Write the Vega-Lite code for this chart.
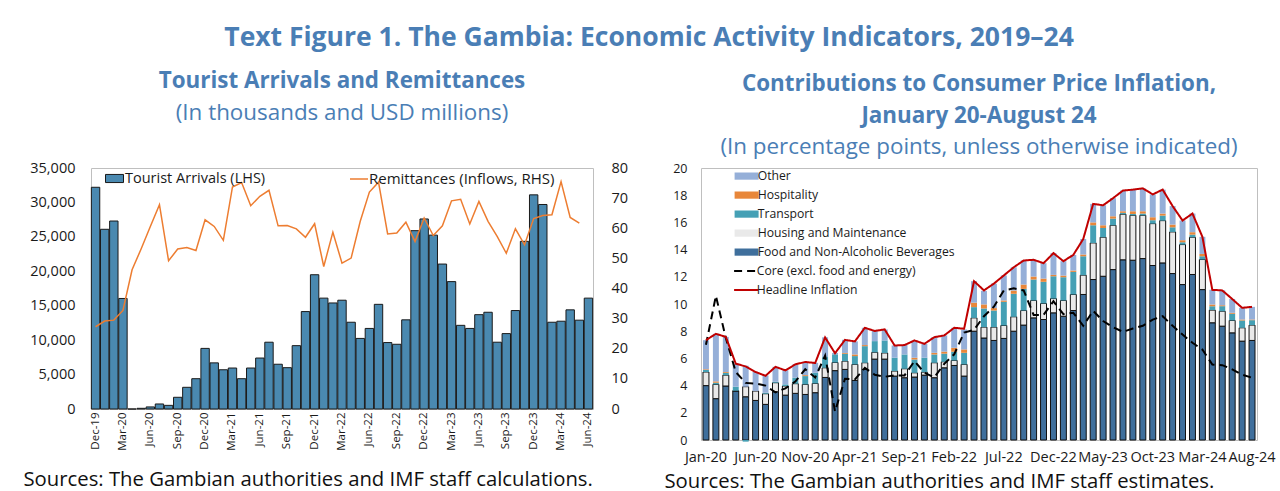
{
  "$schema": "https://vega.github.io/schema/vega-lite/v6.json",
  "background": "white",
  "padding": {"left": 22, "top": 25, "right": 0, "bottom": 0},
  "title": {"text": "Text Figure 1. The Gambia: Economic Activity Indicators, 2019–24", "font": "Open Sans", "fontSize": 26.5, "fontWeight": "bold", "color": "#4A7EB5", "anchor": "middle", "offset": 18},
  "config": {
    "view": {"stroke": "#BFBFBF", "strokeWidth": 1},
    "axis": {"labelFont": "Open Sans", "labelFontSize": 13.5, "labelColor": "#1a1a1a", "ticks": false, "domain": false, "grid": false, "labelOverlap": false, "titleFont": "Open Sans", "titleFontWeight": "normal", "titleColor": "#111111"},
    "legend": {"labelFont": "Open Sans", "labelFontSize": 13, "labelColor": "#1a1a1a", "labelLimit": 400, "padding": 0},
    "title": {"font": "Open Sans", "color": "#4A7EB5", "subtitleFont": "Open Sans", "subtitleColor": "#4A7EB5"}
  },
  "resolve": {
    "scale": {"fill": "independent", "stroke": "independent", "strokeDash": "independent"},
    "legend": {"fill": "independent", "stroke": "independent", "strokeDash": "independent"}
  },
  "spacing": 34,
  "hconcat": [
    {
      "width": 502,
      "height": 241,
      "title": {"text": "Tourist Arrivals and Remittances", "subtitle": "(In thousands and USD millions)", "fontSize": 22.4, "fontWeight": "bold", "subtitleFontSize": 22.4, "subtitleFontWeight": "normal", "subtitlePadding": 9, "offset": 36, "anchor": "middle"},
      "data": {"values": [
        {"m":"Dec-19","tourists":32200,"remit":27.3},
        {"m":"Jan-20","tourists":26100,"remit":29.2},
        {"m":"Feb-20","tourists":27300,"remit":29.5},
        {"m":"Mar-20","tourists":16050,"remit":32.7},
        {"m":"Apr-20","tourists":0,"remit":46.2},
        {"m":"May-20","tourists":100,"remit":53.2},
        {"m":"Jun-20","tourists":300,"remit":60.6},
        {"m":"Jul-20","tourists":730,"remit":67.8},
        {"m":"Aug-20","tourists":530,"remit":49.2},
        {"m":"Sep-20","tourists":1700,"remit":53.1},
        {"m":"Oct-20","tourists":3150,"remit":53.6},
        {"m":"Nov-20","tourists":4400,"remit":52.6},
        {"m":"Dec-20","tourists":8800,"remit":62.8},
        {"m":"Jan-21","tourists":6700,"remit":60.6},
        {"m":"Feb-21","tourists":5700,"remit":56.0},
        {"m":"Mar-21","tourists":5950,"remit":73.7},
        {"m":"Apr-21","tourists":4400,"remit":75.2},
        {"m":"May-21","tourists":5950,"remit":67.5},
        {"m":"Jun-21","tourists":7400,"remit":70.6},
        {"m":"Jul-21","tourists":9700,"remit":72.6},
        {"m":"Aug-21","tourists":6500,"remit":60.8},
        {"m":"Sep-21","tourists":6000,"remit":60.9},
        {"m":"Oct-21","tourists":9200,"remit":59.8},
        {"m":"Nov-21","tourists":14150,"remit":57.0},
        {"m":"Dec-21","tourists":19500,"remit":61.5},
        {"m":"Jan-22","tourists":16100,"remit":47.3},
        {"m":"Feb-22","tourists":15400,"remit":58.7},
        {"m":"Mar-22","tourists":15800,"remit":48.4},
        {"m":"Apr-22","tourists":12600,"remit":50.1},
        {"m":"May-22","tourists":10250,"remit":62.3},
        {"m":"Jun-22","tourists":11700,"remit":72.0},
        {"m":"Jul-22","tourists":15200,"remit":75.3},
        {"m":"Aug-22","tourists":9650,"remit":58.1},
        {"m":"Sep-22","tourists":9400,"remit":58.4},
        {"m":"Oct-22","tourists":12950,"remit":62.0},
        {"m":"Nov-22","tourists":25900,"remit":55.6},
        {"m":"Dec-22","tourists":27600,"remit":63.4},
        {"m":"Jan-23","tourists":25250,"remit":57.6},
        {"m":"Feb-23","tourists":21050,"remit":60.8},
        {"m":"Mar-23","tourists":18500,"remit":69.1},
        {"m":"Apr-23","tourists":12150,"remit":69.6},
        {"m":"May-23","tourists":11700,"remit":61.4},
        {"m":"Jun-23","tourists":13700,"remit":68.9},
        {"m":"Jul-23","tourists":14050,"remit":62.3},
        {"m":"Aug-23","tourists":9700,"remit":57.3},
        {"m":"Sep-23","tourists":10950,"remit":51.7},
        {"m":"Oct-23","tourists":14300,"remit":59.8},
        {"m":"Nov-23","tourists":24350,"remit":54.5},
        {"m":"Dec-23","tourists":31100,"remit":63.2},
        {"m":"Jan-24","tourists":29700,"remit":64.2},
        {"m":"Feb-24","tourists":12600,"remit":64.5},
        {"m":"Mar-24","tourists":12750,"remit":75.5},
        {"m":"Apr-24","tourists":14400,"remit":63.6},
        {"m":"May-24","tourists":12900,"remit":61.7},
        {"m":"Jun-24","tourists":16100,"remit":null}
      ]},
      "encoding": {
        "x": {"field": "m", "type": "ordinal", "sort": null,
          "scale": {"paddingInner": 0.08, "paddingOuter": 0.04},
          "axis": {"values": ["Dec-19","Mar-20","Jun-20","Sep-20","Dec-20","Mar-21","Jun-21","Sep-21","Dec-21","Mar-22","Jun-22","Sep-22","Dec-22","Mar-23","Jun-23","Sep-23","Dec-23","Mar-24","Jun-24"],
            "labelAngle": -90, "labelAlign": "right", "labelBaseline": "middle", "labelPadding": 3, "labelFontSize": 11.5,
            "title": "Sources: The Gambian authorities and IMF staff calculations.",
            "titleFontSize": 20.3, "titleX": -68, "titleY": 76, "titleAlign": "left", "titleBaseline": "alphabetic"}}
      },
      "layer": [
        {
          "mark": {"type": "bar", "stroke": "#1a1a1a", "strokeWidth": 1},
          "encoding": {
            "y": {"field": "tourists", "type": "quantitative", "scale": {"domain": [0, 35000], "nice": false},
              "axis": {"values": [0,5000,10000,15000,20000,25000,30000,35000], "format": ",.0f", "title": null, "labelPadding": 16, "labelFontSize": 14.5, "labelOverlap": false}},
            "fill": {"datum": "Tourist Arrivals (LHS)", "type": "nominal", "scale": {"range": ["#4A89B0"]},
              "legend": {"title": null, "orient": "none", "legendX": 14, "legendY": 1, "symbolType": "M-1,-0.45H1V0.45H-1Z", "symbolSize": 324, "symbolStrokeColor": "#1a1a1a", "symbolStrokeWidth": 1, "labelFontSize": 14.5, "labelOffset": 1}}
          }
        },
        {
          "mark": {"type": "line", "strokeWidth": 1.5, "color": "#ED7D31"},
          "encoding": {
            "y": {"field": "remit", "type": "quantitative", "scale": {"domain": [0, 80], "nice": false},
              "axis": {"orient": "right", "values": [0,10,20,30,40,50,60,70,80], "title": null, "labelPadding": 18, "labelFontSize": 14.5, "labelOverlap": false}},
            "stroke": {"datum": "Remittances (Inflows, RHS)", "type": "nominal", "scale": {"range": ["#ED7D31"]},
              "legend": {"title": null, "orient": "none", "legendX": 258, "legendY": 1, "symbolType": "stroke", "symbolSize": 324, "symbolStrokeWidth": 1.5, "labelFontSize": 15, "labelOffset": 0}}
          }
        }
      ],
      "resolve": {"scale": {"y": "independent"}}
    },
    {
      "width": 556,
      "height": 272,
      "title": {"text": ["Contributions to Consumer Price Inflation,", "January 20-August 24"], "subtitle": "(In percentage points, unless otherwise indicated)", "fontSize": 22.4, "lineHeight": 32, "fontWeight": "bold", "subtitleFontSize": 22.4, "subtitleFontWeight": "normal", "subtitlePadding": 8, "offset": 4, "anchor": "middle"},
      "data": {"values": [
        {"m":"Jan-20","food":4.0,"housing":1.0,"transport":0.15,"hospitality":0.05,"other":2.14,"core":7.0,"headline":7.34},
        {"m":"Feb-20","food":3.04,"housing":1.05,"transport":0.12,"hospitality":0.1,"other":3.5,"core":10.6,"headline":7.81},
        {"m":"Mar-20","food":3.97,"housing":0.8,"transport":0.17,"hospitality":0.06,"other":2.58,"core":7.5,"headline":7.58},
        {"m":"Apr-20","food":3.6,"housing":0.02,"transport":0.3,"hospitality":0.0,"other":1.69,"core":5.0,"headline":5.61},
        {"m":"May-20","food":3.18,"housing":0.74,"transport":-0.12,"hospitality":0.0,"other":1.54,"core":4.2,"headline":5.41},
        {"m":"Jun-20","food":2.91,"housing":0.69,"transport":0.0,"hospitality":0.0,"other":1.4,"core":4.15,"headline":5.0},
        {"m":"Jul-20","food":2.62,"housing":0.78,"transport":0.07,"hospitality":0.0,"other":1.28,"core":4.0,"headline":4.72},
        {"m":"Aug-20","food":3.55,"housing":0.66,"transport":0.07,"hospitality":0.0,"other":1.1,"core":3.5,"headline":5.38},
        {"m":"Sep-20","food":3.3,"housing":0.67,"transport":0.12,"hospitality":0.0,"other":1.04,"core":3.8,"headline":5.12},
        {"m":"Oct-20","food":3.43,"housing":0.71,"transport":0.44,"hospitality":0.0,"other":0.98,"core":4.3,"headline":5.56},
        {"m":"Nov-20","food":3.35,"housing":0.74,"transport":0.61,"hospitality":0.07,"other":0.96,"core":5.2,"headline":5.74},
        {"m":"Dec-20","food":3.48,"housing":0.68,"transport":0.78,"hospitality":0.0,"other":0.73,"core":4.6,"headline":5.66},
        {"m":"Jan-21","food":4.6,"housing":0.71,"transport":0.79,"hospitality":0.0,"other":1.45,"core":6.2,"headline":7.54},
        {"m":"Feb-21","food":5.1,"housing":0.6,"transport":0.6,"hospitality":0.0,"other":0.1,"core":2.1,"headline":6.38},
        {"m":"Mar-21","food":5.19,"housing":0.61,"transport":0.54,"hospitality":0.06,"other":0.97,"core":4.5,"headline":7.36},
        {"m":"Apr-21","food":4.38,"housing":1.18,"transport":0.61,"hospitality":0.12,"other":0.96,"core":4.45,"headline":7.25},
        {"m":"May-21","food":5.19,"housing":0.49,"transport":1.22,"hospitality":0.08,"other":1.27,"core":5.3,"headline":8.25},
        {"m":"Jun-21","food":5.95,"housing":0.5,"transport":0.82,"hospitality":0.0,"other":0.75,"core":4.8,"headline":8.02},
        {"m":"Jul-21","food":5.95,"housing":0.45,"transport":0.92,"hospitality":0.0,"other":0.81,"core":4.65,"headline":8.13},
        {"m":"Aug-21","food":4.7,"housing":0.37,"transport":0.98,"hospitality":0.0,"other":0.9,"core":4.75,"headline":6.95},
        {"m":"Sep-21","food":4.58,"housing":0.66,"transport":1.05,"hospitality":0.0,"other":0.69,"core":4.75,"headline":6.98},
        {"m":"Oct-21","food":4.63,"housing":0.31,"transport":0.98,"hospitality":0.13,"other":1.27,"core":5.8,"headline":7.32},
        {"m":"Nov-21","food":4.77,"housing":0.22,"transport":1.06,"hospitality":0.0,"other":1.02,"core":4.95,"headline":7.07},
        {"m":"Dec-21","food":4.58,"housing":1.1,"transport":0.61,"hospitality":0.12,"other":1.15,"core":4.6,"headline":7.56},
        {"m":"Jan-22","food":5.31,"housing":0.44,"transport":0.6,"hospitality":0.15,"other":1.19,"core":5.6,"headline":7.69},
        {"m":"Feb-22","food":5.48,"housing":0.37,"transport":0.64,"hospitality":0.29,"other":1.47,"core":6.3,"headline":8.25},
        {"m":"Mar-22","food":4.7,"housing":0.86,"transport":0.85,"hospitality":0.25,"other":1.47,"core":7.9,"headline":8.18},
        {"m":"Apr-22","food":8.0,"housing":0.98,"transport":0.79,"hospitality":0.33,"other":1.58,"core":8.1,"headline":11.68},
        {"m":"May-22","food":7.5,"housing":0.8,"transport":1.37,"hospitality":0.3,"other":1.0,"core":9.1,"headline":11.0},
        {"m":"Jun-22","food":7.32,"housing":0.98,"transport":1.22,"hospitality":0.18,"other":1.8,"core":9.8,"headline":11.5},
        {"m":"Jul-22","food":7.47,"housing":0.95,"transport":1.74,"hospitality":0.1,"other":1.84,"core":11.0,"headline":12.1},
        {"m":"Aug-22","food":8.0,"housing":1.06,"transport":1.69,"hospitality":0.24,"other":1.71,"core":11.15,"headline":12.7},
        {"m":"Sep-22","food":8.45,"housing":1.07,"transport":1.59,"hospitality":0.32,"other":1.77,"core":11.0,"headline":13.2},
        {"m":"Oct-22","food":8.98,"housing":1.28,"transport":1.54,"hospitality":0.22,"other":1.23,"core":9.2,"headline":13.25},
        {"m":"Nov-22","food":8.86,"housing":1.18,"transport":1.59,"hospitality":0.24,"other":1.13,"core":9.2,"headline":13.0},
        {"m":"Dec-22","food":9.35,"housing":1.05,"transport":1.64,"hospitality":0.1,"other":1.6,"core":10.2,"headline":13.74},
        {"m":"Jan-23","food":9.1,"housing":1.16,"transport":1.71,"hospitality":0.12,"other":1.06,"core":9.25,"headline":13.15},
        {"m":"Feb-23","food":9.52,"housing":1.18,"transport":1.66,"hospitality":0.1,"other":1.15,"core":9.35,"headline":13.61},
        {"m":"Mar-23","food":10.7,"housing":1.42,"transport":1.39,"hospitality":0.13,"other":1.14,"core":8.4,"headline":14.78},
        {"m":"Apr-23","food":11.8,"housing":2.69,"transport":1.3,"hospitality":0.21,"other":1.36,"core":9.5,"headline":17.36},
        {"m":"May-23","food":12.04,"housing":2.87,"transport":0.68,"hospitality":0.2,"other":1.47,"core":8.75,"headline":17.26},
        {"m":"Jun-23","food":12.53,"housing":3.26,"transport":0.49,"hospitality":0.17,"other":1.33,"core":8.3,"headline":17.78},
        {"m":"Jul-23","food":13.25,"housing":3.35,"transport":0.1,"hospitality":0.12,"other":1.52,"core":7.95,"headline":18.34},
        {"m":"Aug-23","food":13.22,"housing":3.3,"transport":0.1,"hospitality":0.2,"other":1.59,"core":8.2,"headline":18.41},
        {"m":"Sep-23","food":13.34,"housing":3.18,"transport":0.13,"hospitality":0.17,"other":1.68,"core":8.4,"headline":18.5},
        {"m":"Oct-23","food":12.83,"housing":3.08,"transport":0.25,"hospitality":0.22,"other":1.68,"core":8.85,"headline":18.06},
        {"m":"Nov-23","food":13.02,"housing":3.11,"transport":0.37,"hospitality":0.15,"other":1.76,"core":9.1,"headline":18.41},
        {"m":"Dec-23","food":12.24,"housing":3.06,"transport":0.34,"hospitality":0.2,"other":1.36,"core":8.4,"headline":17.2},
        {"m":"Jan-24","food":11.43,"housing":2.94,"transport":0.17,"hospitality":0.15,"other":1.45,"core":7.75,"headline":16.14},
        {"m":"Feb-24","food":12.17,"housing":2.74,"transport":0.19,"hospitality":0.18,"other":1.37,"core":7.15,"headline":16.65},
        {"m":"Mar-24","food":11.06,"housing":2.21,"transport":0.24,"hospitality":0.17,"other":1.26,"core":6.65,"headline":14.94},
        {"m":"Apr-24","food":8.62,"housing":0.93,"transport":0.29,"hospitality":0.12,"other":1.08,"core":5.55,"headline":11.04},
        {"m":"May-24","food":8.37,"housing":1.1,"transport":0.37,"hospitality":0.07,"other":1.09,"core":5.5,"headline":11.0},
        {"m":"Jun-24","food":7.88,"housing":0.91,"transport":0.49,"hospitality":0.07,"other":1.02,"core":5.2,"headline":10.37},
        {"m":"Jul-24","food":7.27,"housing":0.98,"transport":0.54,"hospitality":0.07,"other":0.86,"core":4.8,"headline":9.72},
        {"m":"Aug-24","food":7.32,"housing":1.13,"transport":0.36,"hospitality":0.05,"other":0.93,"core":4.58,"headline":9.79}
      ]},
      "encoding": {
        "x": {"field": "m", "type": "ordinal", "sort": null,
          "scale": {"paddingInner": 0.4, "paddingOuter": 0.2},
          "axis": {"values": ["Jan-20","Jun-20","Nov-20","Apr-21","Sep-21","Feb-22","Jul-22","Dec-22","May-23","Oct-23","Mar-24","Aug-24"],
            "labelAngle": 0, "labelPadding": 10, "labelFontSize": 14.5, "labelOverlap": false,
            "title": "Sources: The Gambian authorities and IMF staff estimates.",
            "titleFontSize": 20.3, "titleX": -37, "titleY": 47, "titleAlign": "left", "titleBaseline": "alphabetic"}},
        "y": {"type": "quantitative", "scale": {"domain": [0, 20], "nice": false},
          "axis": {"values": [0,2,4,6,8,10,12,14,16,18,20], "title": null, "labelPadding": 14, "labelFontSize": 12.5, "labelOverlap": false}}
      },
      "layer": [
        {
          "transform": [
            {"fold": ["food", "housing", "transport", "hospitality", "other"], "as": ["component", "value"]},
            {"calculate": "indexof(['food','housing','transport','hospitality','other'], datum.component)", "as": "ord"}
          ],
          "mark": {"type": "bar", "strokeWidth": 1},
          "encoding": {
            "y": {"field": "value", "type": "quantitative", "stack": "zero", "scale": {"domain": [0, 20], "nice": false},
              "axis": {"values": [0,2,4,6,8,10,12,14,16,18,20], "title": null, "labelPadding": 14, "labelFontSize": 12.5, "labelOverlap": false}},
            "fill": {"field": "component", "type": "nominal",
              "scale": {"domain": ["other", "hospitality", "transport", "housing", "food"], "range": ["#95AFD8", "#E8873A", "#45A0B5", "#E9E9E9", "#3F6F9C"]},
              "legend": {"title": null, "orient": "none", "legendX": 39.5, "legendY": 2, "symbolType": "M-4,-1.2H4V1.2H-4Z", "symbolSize": 36, "rowPadding": 5, "labelOffset": 5, "labelFontSize": 12.2,
                "labelExpr": "{'other':'Other','hospitality':'Hospitality','transport':'Transport','housing':'Housing and Maintenance','food':'Food and Non-Alcoholic Beverages'}[datum.label]",
                "encode": {"symbols": {"update": {"stroke": {"signal": "datum.value === 'food' || datum.value === 'housing' ? '#111111' : 'transparent'"}, "strokeWidth": {"value": 1}}}}}},
            "stroke": {"condition": {"test": "datum.component === 'food' || datum.component === 'housing'", "value": "#111111"}, "value": "transparent"},
            "order": {"field": "ord", "type": "quantitative"}
          }
        },
        {
          "transform": [
            {"fold": ["core", "headline"], "as": ["series", "value"]}
          ],
          "mark": {"type": "line", "strokeWidth": 2},
          "encoding": {
            "y": {"field": "value", "type": "quantitative", "axis": {"values": [0,2,4,6,8,10,12,14,16,18,20], "title": null, "labelPadding": 14, "labelFontSize": 12.5, "labelOverlap": false}},
            "stroke": {"field": "series", "type": "nominal",
              "scale": {"domain": ["core", "headline"], "range": ["#000000", "#C00000"]},
              "legend": {"title": null, "orient": "none", "legendX": 39, "legendY": 97, "symbolType": "M-4,0H4", "symbolSize": 36, "symbolStrokeWidth": 2, "rowPadding": 6, "labelOffset": 4.5, "labelFontSize": 12.2,
                "labelExpr": "datum.label == 'core' ? 'Core (excl. food and energy)' : 'Headline Inflation'"}},
            "strokeDash": {"field": "series", "type": "nominal",
              "scale": {"domain": ["core", "headline"], "range": [[8, 5], [1, 0]]},
              "legend": {"title": null, "orient": "none", "legendX": 39, "legendY": 97, "symbolType": "M-4,0H4", "symbolSize": 36, "symbolStrokeWidth": 2, "rowPadding": 6, "labelOffset": 4.5, "labelFontSize": 12.2,
                "labelExpr": "datum.label == 'core' ? 'Core (excl. food and energy)' : 'Headline Inflation'"}}
          }
        }
      ]
    }
  ]
}
